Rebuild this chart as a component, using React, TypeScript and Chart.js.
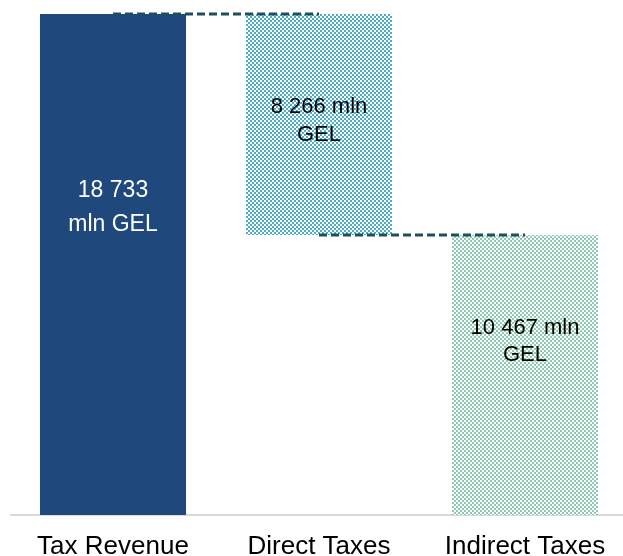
import React, { useEffect, useRef } from "react";
import { Chart, registerables } from "chart.js";

Chart.register(...registerables);

const categories = ["Tax Revenue", "Direct Taxes", "Indirect Taxes"];
const barStarts = [0, 10467, 0];
const barEnds = [18733, 18733, 10467];
const connector1 = [18733, 18733, null];
const connector2 = [null, 10467, 10467];
const labelLines = [
  ["18 733", "mln GEL"],
  ["8 266 mln", "GEL"],
  ["10 467 mln", "GEL"],
];

const Y_MAX = 19256;
const LABEL_POS = [0.386, 0.484, 0.38];
const LABEL_GAP = [34, 28, 27];
const LABEL_SIZE = [23, 22, 22];
const LABEL_COLORS = ["#ffffff", "#000000", "#000000"];

function makeChecker(color: string): CanvasPattern | string {
  const c = document.createElement("canvas");
  c.width = 4;
  c.height = 4;
  const g = c.getContext("2d");
  if (!g) return color;
  g.fillStyle = "#ffffff";
  g.fillRect(0, 0, 4, 4);
  g.fillStyle = color;
  g.fillRect(0, 0, 2, 2);
  g.fillRect(2, 2, 2, 2);
  const p = g.createPattern(c, "repeat");
  return p || color;
}

const labelPlugin = {
  id: "barLabels",
  afterDatasetsDraw(chart: any) {
    const meta = chart.getDatasetMeta(2);
    const ctx = chart.ctx;
    ctx.save();
    ctx.textAlign = "center";
    ctx.textBaseline = "middle";
    meta.data.forEach((el: any, i: number) => {
      const top = Math.min(el.y, el.base);
      const bot = Math.max(el.y, el.base);
      const cy = top + (bot - top) * LABEL_POS[i];
      const lines = labelLines[i];
      const gap = LABEL_GAP[i];
      ctx.font = LABEL_SIZE[i] + "px 'Liberation Sans', Arial, sans-serif";
      ctx.fillStyle = LABEL_COLORS[i];
      lines.forEach((t, k) => {
        const y = cy + (k - (lines.length - 1) / 2) * gap;
        ctx.fillText(t, el.x, y);
      });
    });
    ctx.restore();
  },
};

export default function App() {
  const ref = useRef<HTMLCanvasElement>(null);
  useEffect(() => {
    if (!ref.current) return;
    const colors = [
      "#1F497D",
      makeChecker("#4BACC6"),
      makeChecker("#8CCBB2"),
    ];
    const lineStyle = {
      type: "line",
      borderColor: "#1E4F5C",
      borderWidth: 3,
      borderDash: [8, 4],
      pointRadius: 0,
      fill: false,
      spanGaps: false,
      order: 0,
    };
    const chart = new Chart(ref.current, {
      type: "bar",
      data: {
        labels: categories,
        datasets: [
          { ...lineStyle, data: connector1 as any } as any,
          { ...lineStyle, data: connector2 as any } as any,
          {
            type: "bar",
            data: categories.map((_, i) => [barStarts[i], barEnds[i]]) as any,
            backgroundColor: colors as any,
            borderWidth: 0,
            barPercentage: 0.709,
            categoryPercentage: 1,
            order: 1,
          } as any,
        ],
      },
      options: {
        animation: false,
        responsive: false,
        maintainAspectRatio: false,
        layout: { padding: 0 },
        plugins: {
          legend: { display: false },
          tooltip: { enabled: false },
          title: { display: false },
        },
        scales: {
          x: {
            grid: { display: false, drawTicks: false },
            border: { display: true, color: "#d9d9d9", width: 2 },
            ticks: {
              color: "#000000",
              font: { family: "'Liberation Sans', Arial, sans-serif", size: 26 },
              padding: 16,
              maxRotation: 0,
              autoSkip: false,
            },
            afterFit: (s: any) => {
              s.height = 41;
            },
          },
          y: {
            display: false,
            min: 0,
            max: Y_MAX,
          },
        },
      },
      plugins: [labelPlugin],
    });
    return () => chart.destroy();
  }, []);
  return (
    <div style={{ position: "fixed", left: 10, top: 0, width: 618, height: 556 }}>
      <canvas ref={ref} width={618} height={556} style={{ display: "block" }} />
    </div>
  );
}
